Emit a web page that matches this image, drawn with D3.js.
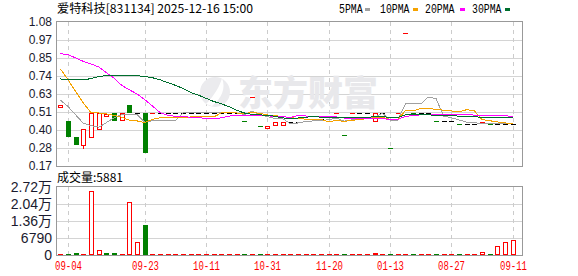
<!DOCTYPE html>
<html><head><meta charset="utf-8">
<script src="https://cdn.jsdelivr.net/npm/d3@7/dist/d3.min.js"></script>
<style>body{margin:0;background:#fff}svg{display:block}</style>
</head><body>
<svg id="c" width="578" height="276"></svg>
<script>
// ---- data ----
const titleText = "爱特科技[831134] 2025-12-16 15:00";
const volTitle = "成交量:5881";
const tickDates = ["09-04","09-23","10-11","10-31","11-20","01-13","08-27","09-11"];
const tickIndex = [1,11,19,27,35,43,51,59];
const priceTickValues = [0.17,0.28375,0.3975,0.51125,0.625,0.73875,0.8525,0.96625,1.08];
const priceTickLabels = ["0.17","0.28","0.40","0.51","0.63","0.74","0.85","0.97","1.08"];
const volTickValues = [0,6790,13580,20370,27160];
const volTickLabels = ["0","6790","1.36万","2.04万","2.72万"];
const maNames = ["5PMA","10PMA","20PMA","30PMA"];

const open  = [0.54,0.455,0.356,0.305,0.356,0.403,0.487,0.502,0.46,0.557,
               0.507,0.507,0.505,0.505,0.505,0.505,0.505,0.505,0.505,0.505,
               0.505,0.505,0.505,0.505,0.453,0.607,0.422,0.409,0.428,0.428,
               0.447,0.447,0.466,0.466,0.466,0.466,0.504,0.365,0.504,0.504,
               0.504,0.455,0.505,0.282,0.505,1.011,0.505,0.505,0.505,0.455,
               0.455,0.455,0.434,0.434,0.434,0.44,0.434,0.434,0.434,0.434];
const close = [0.555,0.356,0.305,0.403,0.506,0.506,0.498,0.457,0.505,0.507,
               0.507,0.254,0.505,0.505,0.505,0.505,0.505,0.505,0.505,0.505,
               0.505,0.505,0.505,0.505,0.453,0.607,0.422,0.422,0.447,0.447,
               0.447,0.447,0.466,0.466,0.466,0.466,0.504,0.365,0.504,0.504,
               0.504,0.505,0.505,0.282,0.505,1.011,0.505,0.505,0.505,0.455,
               0.455,0.455,0.434,0.434,0.434,0.447,0.434,0.434,0.434,0.434];
const high  = [0.555,0.455,0.356,0.403,0.506,0.506,0.498,0.502,0.505,0.557,
               0.507,0.507,0.505,0.505,0.505,0.505,0.505,0.505,0.505,0.505,
               0.505,0.505,0.505,0.505,0.453,0.607,0.422,0.422,0.447,0.447,
               0.447,0.447,0.466,0.466,0.466,0.466,0.504,0.365,0.504,0.504,
               0.504,0.505,0.505,0.282,0.505,1.011,0.505,0.505,0.505,0.455,
               0.455,0.455,0.434,0.434,0.434,0.447,0.434,0.434,0.434,0.434];
const low   = [0.54,0.356,0.305,0.286,0.356,0.403,0.487,0.457,0.46,0.507,
               0.507,0.254,0.505,0.505,0.505,0.505,0.505,0.505,0.505,0.505,
               0.505,0.505,0.505,0.505,0.453,0.607,0.422,0.409,0.428,0.428,
               0.447,0.447,0.466,0.466,0.466,0.466,0.504,0.365,0.504,0.504,
               0.504,0.455,0.505,0.282,0.505,1.011,0.505,0.505,0.505,0.455,
               0.455,0.455,0.434,0.434,0.434,0.44,0.434,0.434,0.434,0.434];
const volume = [150,150,800,150,25600,1800,800,800,150,21200,
                5300,12100,100,100,100,100,100,100,100,100,
                100,100,100,100,100,100,100,100,100,100,
                100,100,100,100,100,100,100,100,100,100,
                100,900,100,100,100,100,100,100,100,100,
                100,100,100,100,100,1200,100,3650,5100,5881];
const ma5  = [0.586,0.546,0.493,0.44,0.425,0.415,0.444,0.474,0.494,0.495,
              0.495,0.446,0.456,0.456,0.455,0.455,0.505,0.505,0.505,0.505,
              0.505,0.505,0.505,0.505,0.495,0.515,0.498,0.482,0.47,0.469,
              0.437,0.442,0.451,0.455,0.458,0.462,0.474,0.453,0.461,0.469,
              0.476,0.476,0.504,0.46,0.46,0.562,0.562,0.562,0.606,0.596,
              0.485,0.475,0.461,0.447,0.442,0.441,0.437,0.437,0.437,0.437];
const ma10 = [0.785,0.715,0.641,0.568,0.507,0.505,0.5,0.49,0.478,0.46,
              0.455,0.445,0.465,0.475,0.475,0.475,0.476,0.48,0.48,0.48,
              0.48,0.505,0.505,0.505,0.5,0.51,0.502,0.493,0.488,0.482,
              0.476,0.47,0.466,0.462,0.464,0.45,0.458,0.452,0.458,0.464,
              0.469,0.475,0.479,0.461,0.464,0.519,0.519,0.533,0.533,0.528,
              0.523,0.518,0.511,0.526,0.519,0.463,0.456,0.449,0.442,0.44];
const ma20 = [0.88,0.874,0.853,0.831,0.815,0.796,0.76,0.726,0.68,0.652,
              0.625,0.59,0.55,0.508,0.49,0.484,0.482,0.478,0.476,0.47,
              0.467,0.475,0.485,0.49,0.487,0.492,0.489,0.487,0.484,0.481,
              0.478,0.488,0.486,0.484,0.482,0.48,0.48,0.473,0.473,0.473,
              0.473,0.473,0.473,0.461,0.464,0.484,0.488,0.493,0.495,0.496,
              0.496,0.497,0.495,0.493,0.492,0.491,0.487,0.491,0.487,0.484];
const ma30 = [0.72,0.715,0.715,0.715,0.722,0.736,0.741,0.741,0.741,0.741,
              0.741,0.736,0.728,0.715,0.697,0.68,0.66,0.635,0.618,0.598,
              0.578,0.563,0.545,0.522,0.505,0.496,0.493,0.49,0.484,0.474,
              0.47,0.473,0.479,0.481,0.479,0.478,0.478,0.475,0.475,0.475,
              0.475,0.483,0.483,0.476,0.476,0.493,0.493,0.493,0.493,0.491,
              0.49,0.488,0.485,0.483,0.482,0.477,0.478,0.478,0.478,0.477];

// ---- styles ----
const RED = "#ff0000", GREEN = "#008000", FLAT = "#000000";
const maColors = ["#a0a0a0","#f5a200","#ff00ff","#006e2e"];
const GRID = "#d4d4d4", FRAME = "#999999";

const svg = d3.select("#c");
const N = close.length;
const L = 56, R = 522;
const x = d3.scaleBand().domain(d3.range(N)).range([56.5, 516.5]);
const cxf = i => x(i) + x.bandwidth() / 2;
const cx = i => Math.round(cxf(i));

const yP = d3.scaleLinear().domain([0.17, 1.08]).range([166, 22]);
const yV = d3.scaleLinear().domain([0, 27160]).range([255, 187]);
const rp = v => Math.round(yP(v));

// hollow box made of filled rects (crisp, exact colour)
function hollow(sel, x0, y0, w, h, col) {
  sel.append("rect").attr("x", x0).attr("y", y0).attr("width", w).attr("height", h).attr("fill", col);
  if (w > 2 && h > 2)
    sel.append("rect").attr("x", x0 + 1).attr("y", y0 + 1).attr("width", w - 2).attr("height", h - 2).attr("fill", "#ffffff");
}

// ---- grids ----
const g = svg.append("g").attr("shape-rendering", "crispEdges");
g.selectAll(".hgP").data(priceTickValues.slice(1, -1)).join("rect")
  .attr("x", L).attr("width", R - L).attr("y", d => rp(d)).attr("height", 1).attr("fill", GRID);
g.selectAll(".hgV").data(volTickValues.slice(1, -1)).join("rect")
  .attr("x", L).attr("width", R - L).attr("y", d => Math.round(yV(d))).attr("height", 1).attr("fill", GRID);
tickIndex.forEach(i => {
  [[22, 166], [187, 255]].forEach(([a, b]) => {
    g.append("line").attr("x1", cx(i) + 0.5).attr("x2", cx(i) + 0.5)
      .attr("y1", a).attr("y2", b).attr("stroke", "#cccccc").attr("stroke-dasharray", "4,4");
  });
});

// ---- watermark ----
const wm = svg.append("g");
wm.append("circle").attr("cx", 215).attr("cy", 92).attr("r", 15).attr("fill", "#ebebee");
wm.append("path").attr("d", "M206,104 C214,96 220,86 222,78 C226,88 222,98 212,106 Z").attr("fill", "#ffffff");
wm.append("text").attr("x", 238).attr("y", 106).text("东方财富")
  .attr("font-family", "Noto Sans CJK SC").attr("font-weight", 900).attr("font-size", 35)
  .attr("fill", "#e8e8eb");

// ---- frames ----
const fr = svg.append("g").attr("shape-rendering", "crispEdges").attr("fill", FRAME);
fr.append("rect").attr("x", L).attr("y", 21).attr("width", R - L + 1).attr("height", 1);
fr.append("rect").attr("x", L).attr("y", 21).attr("width", 1).attr("height", 146);
fr.append("rect").attr("x", R).attr("y", 21).attr("width", 1).attr("height", 146);
fr.append("rect").attr("x", L).attr("y", 166).attr("width", R - L + 1).attr("height", 1);
fr.append("rect").attr("x", L).attr("y", 186).attr("width", R - L + 1).attr("height", 1);
fr.append("rect").attr("x", L).attr("y", 186).attr("width", 1).attr("height", 70);
fr.append("rect").attr("x", R).attr("y", 186).attr("width", 1).attr("height", 70);
fr.append("rect").attr("x", L).attr("y", 255).attr("width", R - L + 1).attr("height", 1);

// ---- candles ----
const cg = svg.append("g").attr("shape-rendering", "crispEdges");
d3.range(N).forEach(i => {
  const o = open[i], c = close[i], h = high[i], l = low[i];
  const X = cx(i);
  const prev = i > 0 ? close[i - 1] : o;
  const col = c > o ? RED : c < o ? GREEN : (c > prev ? RED : c < prev ? GREEN : FLAT);
  const top = Math.max(o, c), bot = Math.min(o, c);
  if (h > top) cg.append("rect").attr("x", X).attr("width", 1).attr("y", rp(h)).attr("height", rp(top) - rp(h)).attr("fill", col);
  if (l < bot) cg.append("rect").attr("x", X).attr("width", 1).attr("y", rp(bot) + 1).attr("height", rp(l) - rp(bot)).attr("fill", col);
  if (c > o) {
    const y1 = rp(c), y2 = rp(o);
    hollow(cg, X - 2, y1, 5, Math.max(1, y2 - y1 + 1), RED);
  } else if (c < o) {
    const y1 = rp(o), y2 = rp(c);
    cg.append("rect").attr("x", X - 2).attr("y", y1).attr("width", 5).attr("height", Math.max(1, y2 - y1)).attr("fill", GREEN);
  } else {
    cg.append("rect").attr("x", X - 2).attr("y", rp(c)).attr("width", 5).attr("height", 1).attr("fill", col);
  }
});

// ---- MA lines ----
const line = d3.line().x((d, i) => cxf(i)).y(d => yP(d));
[ma5, ma10, ma20, ma30].forEach((arr, k) => {
  svg.append("path").datum(arr).attr("d", line).attr("fill", "none")
    .attr("stroke", maColors[k]).attr("stroke-width", 1).attr("shape-rendering", "crispEdges");
});

// ---- volume bars ----
const vg = svg.append("g").attr("shape-rendering", "crispEdges");
const base = Math.round(yV(0));
d3.range(N).forEach(i => {
  const X = cx(i);
  const prev = i > 0 ? close[i - 1] : open[i];
  const up = close[i] >= prev;
  const col = up ? RED : GREEN;
  const yt = Math.round(yV(volume[i]));
  const h = base - yt;
  if (h < 2) {
    vg.append("rect").attr("x", X - 2).attr("y", base - 1).attr("width", 5).attr("height", 1).attr("fill", col);
  } else if (up) {
    hollow(vg, X - 2, yt, 5, h, RED);
  } else {
    vg.append("rect").attr("x", X - 2).attr("y", yt).attr("width", 5).attr("height", h).attr("fill", GREEN);
  }
});

// ---- axes labels ----
const axP = d3.axisLeft(yP).tickValues(priceTickValues).tickFormat((d, i) => priceTickLabels[i]).tickSize(0).tickPadding(4);
svg.append("g").attr("transform", `translate(${L},0)`).call(axP)
  .call(s => s.select(".domain").remove())
  .selectAll("text").attr("font-family", "Liberation Sans, Arial, sans-serif").attr("font-size", 12).attr("fill", "#1a1a2e");
const axV = d3.axisLeft(yV).tickValues(volTickValues).tickFormat((d, i) => volTickLabels[i]).tickSize(0).tickPadding(4);
svg.append("g").attr("transform", `translate(${L},0)`).call(axV)
  .call(s => s.select(".domain").remove())
  .selectAll("text").attr("font-family", "Liberation Sans, Noto Sans CJK SC, sans-serif").attr("font-size", 14).attr("fill", "#1a1a2e");

svg.append("g").selectAll("text").data(tickDates).join("text")
  .attr("x", (d, k) => cx(tickIndex[k]) + 0.5).attr("y", 270)
  .attr("text-anchor", "middle").attr("fill", RED)
  .attr("font-family", "Liberation Mono, monospace").attr("font-size", 12)
  .attr("textLength", 27).attr("lengthAdjust", "spacingAndGlyphs")
  .text(d => d);

// ---- title & legend ----
svg.append("text").attr("x", 57).attr("y", 13).text(titleText)
  .attr("font-family", "Noto Sans CJK SC").attr("font-size", 12).attr("fill", "#000")
  .attr("textLength", 196).attr("lengthAdjust", "spacingAndGlyphs");
svg.append("text").attr("x", 57).attr("y", 182).text(volTitle)
  .attr("font-family", "Noto Sans CJK SC").attr("font-size", 12).attr("fill", "#000");

const legX = [339, 380, 425, 472];
const sqX = [365, 413, 460, 505];
maNames.forEach((n, k) => {
  svg.append("text").attr("x", legX[k]).attr("y", 13).text(n)
    .attr("font-family", "Liberation Mono, monospace").attr("font-size", 12).attr("fill", "#000")
    .attr("textLength", n.length * 5.9).attr("lengthAdjust", "spacingAndGlyphs");
  svg.append("rect").attr("x", sqX[k]).attr("y", 8).attr("width", 5).attr("height", 3).attr("fill", maColors[k]);
});
</script>
</body></html>
